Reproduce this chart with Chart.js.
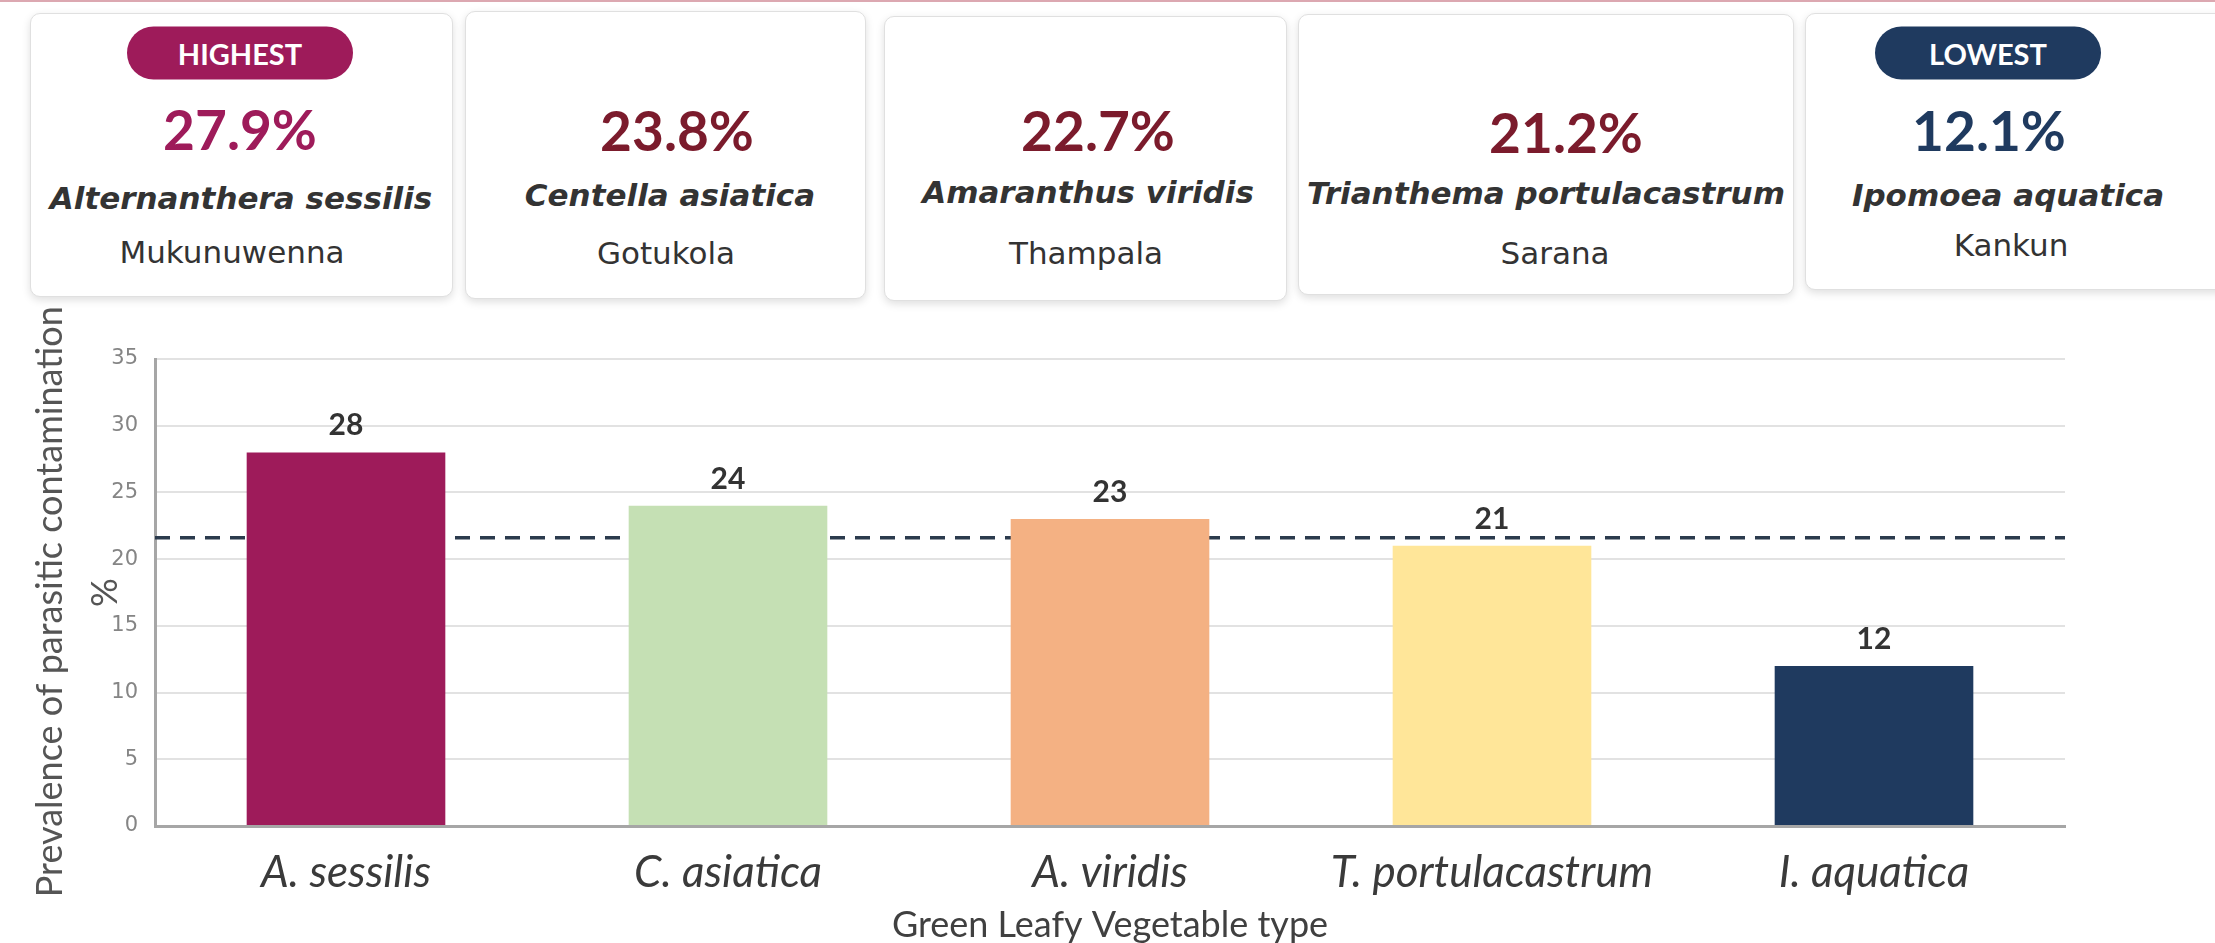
<!DOCTYPE html>
<html>
<head>
<meta charset="utf-8">
<title>Parasitic contamination of green leafy vegetables</title>
<script src="https://cdn.jsdelivr.net/npm/chart.js"></script>
<style>
    html, body { margin: 0; padding: 0; background: #fff; }
    body { width: 2215px; height: 943px; position: relative; overflow: hidden; }
    .topline { position: absolute; left: 0; top: 0; width: 2215px; height: 2px; background: #dca8b1; }
    .card {
        position: absolute; background: #fff; box-sizing: border-box;
        border: 1.5px solid #e0e0e0; border-radius: 10px;
        box-shadow: 0 3px 9px rgba(0, 0, 0, 0.13);
    }
    .txt { position: absolute; transform: translate(-50%, -50%); white-space: nowrap; line-height: 1; }
    .pill {
        position: absolute; transform: translate(-50%, -50%);
        width: 226px; height: 53px; border-radius: 27px;
        color: #fff; font: bold 29px Lato, sans-serif;
        display: flex; align-items: center; justify-content: center;
    }
    .pct { font: bold 55px Lato, sans-serif; }
    .sp { font: italic bold 31px "DejaVu Sans", sans-serif; color: #333; }
    .cm { font: 31px "DejaVu Sans", sans-serif; color: #333; }
    #chartBox { position: absolute; left: 0; top: 300px; width: 2215px; height: 643px; }
</style>
</head>
<body>
<div class="topline"></div>
<div id="cards"></div>
<div id="chartBox"><canvas id="prevChart" width="2215" height="643"></canvas></div>
<script>
const species = ['Alternanthera sessilis', 'Centella asiatica', 'Amaranthus viridis', 'Trianthema portulacastrum', 'Ipomoea aquatica'];
const commonNames = ['Mukunuwenna', 'Gotukola', 'Thampala', 'Sarana', 'Kankun'];
const prevalence = [27.9, 23.8, 22.7, 21.2, 12.1];
const shortNames = ['A. sessilis', 'C. asiatica', 'A. viridis', 'T. portulacastrum', 'I. aquatica'];
const barValues = [28, 24, 23, 21, 12];
const barColors = ['#9e1b5a', '#c5e0b4', '#f4b183', '#ffe699', '#1f3a5f'];
const yTicks = [0, 5, 10, 15, 20, 25, 30, 35];

// card boxes and text centres, page pixels
const cardBoxes = [
    { x: 30, y: 13, w: 423, h: 284, pctX: 240, spX: 241, cmX: 232, pctY: 129, spY: 198, cmY: 252 },
    { x: 465, y: 11, w: 401, h: 288, pctX: 677, spX: 670, cmX: 666, pctY: 130, spY: 195, cmY: 253 },
    { x: 884, y: 16, w: 403, h: 285, pctX: 1098, spX: 1088, cmX: 1086, pctY: 130, spY: 192, cmY: 253 },
    { x: 1298, y: 14, w: 496, h: 281, pctX: 1566, spX: 1546, cmX: 1555, pctY: 132, spY: 193, cmY: 253 },
    { x: 1805, y: 13, w: 440, h: 277, pctX: 1989, spX: 2008, cmX: 2011, pctY: 130, spY: 195, cmY: 245 }
];

const hiColor = '#9e1b5a';
const loColor = '#1f3a5f';
const midColor = '#7b1b2c';

function buildCards() {
    const holder = document.getElementById('cards');
    const hi = prevalence.indexOf(Math.max(...prevalence));
    const lo = prevalence.indexOf(Math.min(...prevalence));

    cardBoxes.forEach((b, i) => {
        const card = document.createElement('div');
        card.className = 'card';
        card.style.left = b.x + 'px';
        card.style.top = b.y + 'px';
        card.style.width = b.w + 'px';
        card.style.height = b.h + 'px';
        holder.appendChild(card);

        if (i === hi || i === lo) {
            const pill = document.createElement('div');
            pill.className = 'pill';
            pill.textContent = i === hi ? 'HIGHEST' : 'LOWEST';
            pill.style.background = i === hi ? hiColor : loColor;
            pill.style.left = (i === hi ? b.pctX : 1988) + 'px';
            pill.style.top = '53px';
            holder.appendChild(pill);
        }

        const rows = [
            ['pct', prevalence[i].toFixed(1) + '%', b.pctX, b.pctY],
            ['sp', species[i], b.spX, b.spY],
            ['cm', commonNames[i], b.cmX, b.cmY]
        ];
        rows.forEach(([cls, text, x, y]) => {
            const el = document.createElement('div');
            el.className = 'txt ' + cls;
            el.textContent = text;
            el.style.left = x + 'px';
            el.style.top = y + 'px';
            if (cls === 'pct') el.style.color = i === hi ? hiColor : (i === lo ? loColor : midColor);
            holder.appendChild(el);
        });
    });
}

const averageValue = barValues.reduce((a, v) => a + v, 0) / barValues.length;

const avgLinePlugin = {
    id: 'avgLine',
    beforeDatasetsDraw(chart) {
        const { ctx, chartArea, scales } = chart;
        const y = scales.y.getPixelForValue(averageValue);
        ctx.save();
        ctx.strokeStyle = '#2b3b4d';
        ctx.lineWidth = 3.5;
        ctx.setLineDash([15, 10]);
        ctx.beginPath();
        ctx.moveTo(chartArea.left, y);
        ctx.lineTo(chartArea.right, y);
        ctx.stroke();
        ctx.restore();
    }
};

const valueLabelPlugin = {
    id: 'valueLabels',
    afterDatasetsDraw(chart) {
        const { ctx } = chart;
        const meta = chart.getDatasetMeta(0);
        ctx.save();
        ctx.font = 'bold 30px Lato';
        ctx.fillStyle = '#333';
        ctx.textAlign = 'center';
        ctx.textBaseline = 'alphabetic';
        meta.data.forEach((bar, i) => {
            ctx.fillText(String(barValues[i]), bar.x, bar.y - 17);
        });
        ctx.restore();
    }
};

function drawChart() {
    const ctx = document.getElementById('prevChart').getContext('2d');
    new Chart(ctx, {
        type: 'bar',
        data: {
            labels: shortNames,
            datasets: [{
                data: barValues,
                backgroundColor: barColors,
                borderWidth: 0,
                barPercentage: 0.52,
                categoryPercentage: 1
            }]
        },
        options: {
            responsive: false,
            animation: false,
            devicePixelRatio: 1,
            layout: { padding: { left: 0, right: 150, top: 59, bottom: 0 } },
            plugins: {
                legend: { display: false },
                tooltip: { enabled: false }
            },
            scales: {
                x: {
                    grid: { display: false, drawTicks: false },
                    border: { display: true, color: '#a6a6a6', width: 3 },
                    ticks: {
                        color: '#3a3a3a',
                        font: { family: 'Lato', size: 44, style: 'italic' },
                        padding: 20
                    },
                    title: {
                        display: true,
                        text: 'Green Leafy Vegetable type',
                        color: '#404040',
                        font: { family: 'Lato', size: 36, lineHeight: 1 },
                        padding: 0
                    },
                    afterFit: (scale) => { scale.height = 117; }
                },
                y: {
                    min: yTicks[0],
                    max: yTicks[yTicks.length - 1],
                    afterBuildTicks: (scale) => { scale.ticks = yTicks.map(v => ({ value: v })); },
                    ticks: {
                        color: '#858585',
                        font: { family: 'DejaVu Sans', size: 21 },
                        padding: 17
                    },
                    grid: { color: '#e2e2e2', lineWidth: 2, drawTicks: false },
                    border: { color: '#a6a6a6', width: 3 },
                    title: {
                        display: true,
                        text: ['Prevalence of parasitic contamination  ', '%'],
                        color: '#555',
                        font: { family: 'Lato', size: 36, lineHeight: 1.55 },
                        padding: { top: 22, bottom: 0 }
                    },
                    afterFit: (scale) => { scale.width = 155; }
                }
            }
        },
        plugins: [avgLinePlugin, valueLabelPlugin]
    });
}

document.addEventListener('DOMContentLoaded', () => {
    buildCards();
    drawChart();
});
</script>
</body>
</html>
